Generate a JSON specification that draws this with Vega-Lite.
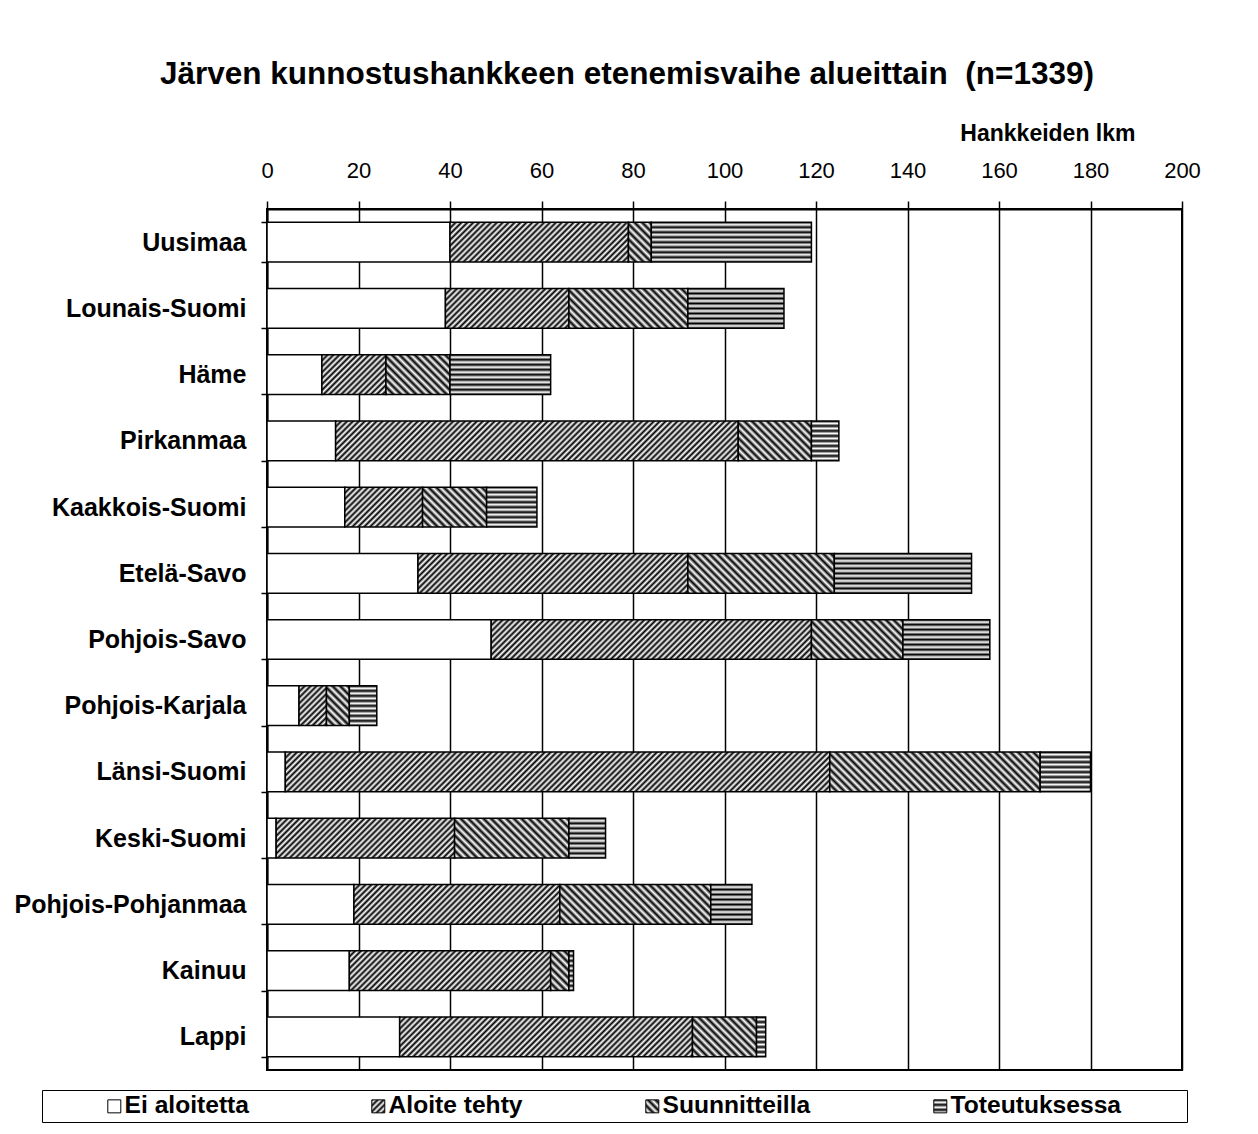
{
  "$schema": "https://vega.github.io/schema/vega-lite/v6.json",
  "autosize": {"type": "none"},
  "width": 915,
  "height": 861,
  "padding": {"left": 267, "top": 209, "right": 76, "bottom": 64},
  "background": "white",
  "params": [
    {"name": "hatch", "value": [
      {"offset":0,"color":"#000"},{"offset":0.005,"color":"#fff"},{"offset":0.01,"color":"#000"},{"offset":0.015,"color":"#fff"},{"offset":0.02,"color":"#000"},{"offset":0.025,"color":"#fff"},{"offset":0.03,"color":"#000"},{"offset":0.035,"color":"#fff"},{"offset":0.04,"color":"#000"},{"offset":0.045,"color":"#fff"},
      {"offset":0.05,"color":"#000"},{"offset":0.055,"color":"#fff"},{"offset":0.06,"color":"#000"},{"offset":0.065,"color":"#fff"},{"offset":0.07,"color":"#000"},{"offset":0.075,"color":"#fff"},{"offset":0.08,"color":"#000"},{"offset":0.085,"color":"#fff"},{"offset":0.09,"color":"#000"},{"offset":0.095,"color":"#fff"},
      {"offset":0.1,"color":"#000"},{"offset":0.105,"color":"#fff"},{"offset":0.11,"color":"#000"},{"offset":0.115,"color":"#fff"},{"offset":0.12,"color":"#000"},{"offset":0.125,"color":"#fff"},{"offset":0.13,"color":"#000"},{"offset":0.135,"color":"#fff"},{"offset":0.14,"color":"#000"},{"offset":0.145,"color":"#fff"},
      {"offset":0.15,"color":"#000"},{"offset":0.155,"color":"#fff"},{"offset":0.16,"color":"#000"},{"offset":0.165,"color":"#fff"},{"offset":0.17,"color":"#000"},{"offset":0.175,"color":"#fff"},{"offset":0.18,"color":"#000"},{"offset":0.185,"color":"#fff"},{"offset":0.19,"color":"#000"},{"offset":0.195,"color":"#fff"},
      {"offset":0.2,"color":"#000"},{"offset":0.205,"color":"#fff"},{"offset":0.21,"color":"#000"},{"offset":0.215,"color":"#fff"},{"offset":0.22,"color":"#000"},{"offset":0.225,"color":"#fff"},{"offset":0.23,"color":"#000"},{"offset":0.235,"color":"#fff"},{"offset":0.24,"color":"#000"},{"offset":0.245,"color":"#fff"},
      {"offset":0.25,"color":"#000"},{"offset":0.255,"color":"#fff"},{"offset":0.26,"color":"#000"},{"offset":0.265,"color":"#fff"},{"offset":0.27,"color":"#000"},{"offset":0.275,"color":"#fff"},{"offset":0.28,"color":"#000"},{"offset":0.285,"color":"#fff"},{"offset":0.29,"color":"#000"},{"offset":0.295,"color":"#fff"},
      {"offset":0.3,"color":"#000"},{"offset":0.305,"color":"#fff"},{"offset":0.31,"color":"#000"},{"offset":0.315,"color":"#fff"},{"offset":0.32,"color":"#000"},{"offset":0.325,"color":"#fff"},{"offset":0.33,"color":"#000"},{"offset":0.335,"color":"#fff"},{"offset":0.34,"color":"#000"},{"offset":0.345,"color":"#fff"},
      {"offset":0.35,"color":"#000"},{"offset":0.355,"color":"#fff"},{"offset":0.36,"color":"#000"},{"offset":0.365,"color":"#fff"},{"offset":0.37,"color":"#000"},{"offset":0.375,"color":"#fff"},{"offset":0.38,"color":"#000"},{"offset":0.385,"color":"#fff"},{"offset":0.39,"color":"#000"},{"offset":0.395,"color":"#fff"},
      {"offset":0.4,"color":"#000"},{"offset":0.405,"color":"#fff"},{"offset":0.41,"color":"#000"},{"offset":0.415,"color":"#fff"},{"offset":0.42,"color":"#000"},{"offset":0.425,"color":"#fff"},{"offset":0.43,"color":"#000"},{"offset":0.435,"color":"#fff"},{"offset":0.44,"color":"#000"},{"offset":0.445,"color":"#fff"},
      {"offset":0.45,"color":"#000"},{"offset":0.455,"color":"#fff"},{"offset":0.46,"color":"#000"},{"offset":0.465,"color":"#fff"},{"offset":0.47,"color":"#000"},{"offset":0.475,"color":"#fff"},{"offset":0.48,"color":"#000"},{"offset":0.485,"color":"#fff"},{"offset":0.49,"color":"#000"},{"offset":0.495,"color":"#fff"},
      {"offset":0.5,"color":"#000"},{"offset":0.505,"color":"#fff"},{"offset":0.51,"color":"#000"},{"offset":0.515,"color":"#fff"},{"offset":0.52,"color":"#000"},{"offset":0.525,"color":"#fff"},{"offset":0.53,"color":"#000"},{"offset":0.535,"color":"#fff"},{"offset":0.54,"color":"#000"},{"offset":0.545,"color":"#fff"},
      {"offset":0.55,"color":"#000"},{"offset":0.555,"color":"#fff"},{"offset":0.56,"color":"#000"},{"offset":0.565,"color":"#fff"},{"offset":0.57,"color":"#000"},{"offset":0.575,"color":"#fff"},{"offset":0.58,"color":"#000"},{"offset":0.585,"color":"#fff"},{"offset":0.59,"color":"#000"},{"offset":0.595,"color":"#fff"},
      {"offset":0.6,"color":"#000"},{"offset":0.605,"color":"#fff"},{"offset":0.61,"color":"#000"},{"offset":0.615,"color":"#fff"},{"offset":0.62,"color":"#000"},{"offset":0.625,"color":"#fff"},{"offset":0.63,"color":"#000"},{"offset":0.635,"color":"#fff"},{"offset":0.64,"color":"#000"},{"offset":0.645,"color":"#fff"},
      {"offset":0.65,"color":"#000"},{"offset":0.655,"color":"#fff"},{"offset":0.66,"color":"#000"},{"offset":0.665,"color":"#fff"},{"offset":0.67,"color":"#000"},{"offset":0.675,"color":"#fff"},{"offset":0.68,"color":"#000"},{"offset":0.685,"color":"#fff"},{"offset":0.69,"color":"#000"},{"offset":0.695,"color":"#fff"},
      {"offset":0.7,"color":"#000"},{"offset":0.705,"color":"#fff"},{"offset":0.71,"color":"#000"},{"offset":0.715,"color":"#fff"},{"offset":0.72,"color":"#000"},{"offset":0.725,"color":"#fff"},{"offset":0.73,"color":"#000"},{"offset":0.735,"color":"#fff"},{"offset":0.74,"color":"#000"},{"offset":0.745,"color":"#fff"},
      {"offset":0.75,"color":"#000"},{"offset":0.755,"color":"#fff"},{"offset":0.76,"color":"#000"},{"offset":0.765,"color":"#fff"},{"offset":0.77,"color":"#000"},{"offset":0.775,"color":"#fff"},{"offset":0.78,"color":"#000"},{"offset":0.785,"color":"#fff"},{"offset":0.79,"color":"#000"},{"offset":0.795,"color":"#fff"},
      {"offset":0.8,"color":"#000"},{"offset":0.805,"color":"#fff"},{"offset":0.81,"color":"#000"},{"offset":0.815,"color":"#fff"},{"offset":0.82,"color":"#000"},{"offset":0.825,"color":"#fff"},{"offset":0.83,"color":"#000"},{"offset":0.835,"color":"#fff"},{"offset":0.84,"color":"#000"},{"offset":0.845,"color":"#fff"},
      {"offset":0.85,"color":"#000"},{"offset":0.855,"color":"#fff"},{"offset":0.86,"color":"#000"},{"offset":0.865,"color":"#fff"},{"offset":0.87,"color":"#000"},{"offset":0.875,"color":"#fff"},{"offset":0.88,"color":"#000"},{"offset":0.885,"color":"#fff"},{"offset":0.89,"color":"#000"},{"offset":0.895,"color":"#fff"},
      {"offset":0.9,"color":"#000"},{"offset":0.905,"color":"#fff"},{"offset":0.91,"color":"#000"},{"offset":0.915,"color":"#fff"},{"offset":0.92,"color":"#000"},{"offset":0.925,"color":"#fff"},{"offset":0.93,"color":"#000"},{"offset":0.935,"color":"#fff"},{"offset":0.94,"color":"#000"},{"offset":0.945,"color":"#fff"},
      {"offset":0.95,"color":"#000"},{"offset":0.955,"color":"#fff"},{"offset":0.96,"color":"#000"},{"offset":0.965,"color":"#fff"},{"offset":0.97,"color":"#000"},{"offset":0.975,"color":"#fff"},{"offset":0.98,"color":"#000"},{"offset":0.985,"color":"#fff"},{"offset":0.99,"color":"#000"},{"offset":0.995,"color":"#fff"},
      {"offset":1,"color":"#000"}
    ]}
  ],
  "title": {
    "text": "Järven kunnostushankkeen etenemisvaihe alueittain\u00a0 (n=1339)",
    "anchor": "start",
    "frame": "group",
    "dx": -107,
    "offset": 32,
    "fontSize": 31.5,
    "fontWeight": "bold",
    "color": "black"
  },
  "data": {"values": [
    {"region": "Uusimaa", "stage": "Ei aloitetta", "k": 1, "n": 40},
    {"region": "Uusimaa", "stage": "Aloite tehty", "k": 2, "n": 39},
    {"region": "Uusimaa", "stage": "Suunnitteilla", "k": 3, "n": 5},
    {"region": "Uusimaa", "stage": "Toteutuksessa", "k": 4, "n": 35},
    {"region": "Lounais-Suomi", "stage": "Ei aloitetta", "k": 1, "n": 39},
    {"region": "Lounais-Suomi", "stage": "Aloite tehty", "k": 2, "n": 27},
    {"region": "Lounais-Suomi", "stage": "Suunnitteilla", "k": 3, "n": 26},
    {"region": "Lounais-Suomi", "stage": "Toteutuksessa", "k": 4, "n": 21},
    {"region": "Häme", "stage": "Ei aloitetta", "k": 1, "n": 12},
    {"region": "Häme", "stage": "Aloite tehty", "k": 2, "n": 14},
    {"region": "Häme", "stage": "Suunnitteilla", "k": 3, "n": 14},
    {"region": "Häme", "stage": "Toteutuksessa", "k": 4, "n": 22},
    {"region": "Pirkanmaa", "stage": "Ei aloitetta", "k": 1, "n": 15},
    {"region": "Pirkanmaa", "stage": "Aloite tehty", "k": 2, "n": 88},
    {"region": "Pirkanmaa", "stage": "Suunnitteilla", "k": 3, "n": 16},
    {"region": "Pirkanmaa", "stage": "Toteutuksessa", "k": 4, "n": 6},
    {"region": "Kaakkois-Suomi", "stage": "Ei aloitetta", "k": 1, "n": 17},
    {"region": "Kaakkois-Suomi", "stage": "Aloite tehty", "k": 2, "n": 17},
    {"region": "Kaakkois-Suomi", "stage": "Suunnitteilla", "k": 3, "n": 14},
    {"region": "Kaakkois-Suomi", "stage": "Toteutuksessa", "k": 4, "n": 11},
    {"region": "Etelä-Savo", "stage": "Ei aloitetta", "k": 1, "n": 33},
    {"region": "Etelä-Savo", "stage": "Aloite tehty", "k": 2, "n": 59},
    {"region": "Etelä-Savo", "stage": "Suunnitteilla", "k": 3, "n": 32},
    {"region": "Etelä-Savo", "stage": "Toteutuksessa", "k": 4, "n": 30},
    {"region": "Pohjois-Savo", "stage": "Ei aloitetta", "k": 1, "n": 49},
    {"region": "Pohjois-Savo", "stage": "Aloite tehty", "k": 2, "n": 70},
    {"region": "Pohjois-Savo", "stage": "Suunnitteilla", "k": 3, "n": 20},
    {"region": "Pohjois-Savo", "stage": "Toteutuksessa", "k": 4, "n": 19},
    {"region": "Pohjois-Karjala", "stage": "Ei aloitetta", "k": 1, "n": 7},
    {"region": "Pohjois-Karjala", "stage": "Aloite tehty", "k": 2, "n": 6},
    {"region": "Pohjois-Karjala", "stage": "Suunnitteilla", "k": 3, "n": 5},
    {"region": "Pohjois-Karjala", "stage": "Toteutuksessa", "k": 4, "n": 6},
    {"region": "Länsi-Suomi", "stage": "Ei aloitetta", "k": 1, "n": 4},
    {"region": "Länsi-Suomi", "stage": "Aloite tehty", "k": 2, "n": 119},
    {"region": "Länsi-Suomi", "stage": "Suunnitteilla", "k": 3, "n": 46},
    {"region": "Länsi-Suomi", "stage": "Toteutuksessa", "k": 4, "n": 11},
    {"region": "Keski-Suomi", "stage": "Ei aloitetta", "k": 1, "n": 2},
    {"region": "Keski-Suomi", "stage": "Aloite tehty", "k": 2, "n": 39},
    {"region": "Keski-Suomi", "stage": "Suunnitteilla", "k": 3, "n": 25},
    {"region": "Keski-Suomi", "stage": "Toteutuksessa", "k": 4, "n": 8},
    {"region": "Pohjois-Pohjanmaa", "stage": "Ei aloitetta", "k": 1, "n": 19},
    {"region": "Pohjois-Pohjanmaa", "stage": "Aloite tehty", "k": 2, "n": 45},
    {"region": "Pohjois-Pohjanmaa", "stage": "Suunnitteilla", "k": 3, "n": 33},
    {"region": "Pohjois-Pohjanmaa", "stage": "Toteutuksessa", "k": 4, "n": 9},
    {"region": "Kainuu", "stage": "Ei aloitetta", "k": 1, "n": 18},
    {"region": "Kainuu", "stage": "Aloite tehty", "k": 2, "n": 44},
    {"region": "Kainuu", "stage": "Suunnitteilla", "k": 3, "n": 4},
    {"region": "Kainuu", "stage": "Toteutuksessa", "k": 4, "n": 1},
    {"region": "Lappi", "stage": "Ei aloitetta", "k": 1, "n": 29},
    {"region": "Lappi", "stage": "Aloite tehty", "k": 2, "n": 64},
    {"region": "Lappi", "stage": "Suunnitteilla", "k": 3, "n": 14},
    {"region": "Lappi", "stage": "Toteutuksessa", "k": 4, "n": 2}
  ]},
  "transform": [
    {"stack": "n", "groupby": ["region"], "sort": [{"field": "k", "order": "ascending"}], "as": ["s0", "s1"]}
  ],
  "mark": {
    "type": "bar",
    "strokeWidth": 1.5,
    "fill": {"expr": "(datum.stage || datum.value) === 'Ei aloitetta' ? 'white' : (datum.stage || datum.value) === 'Toteutuksessa' ? {gradient: 'linear', x1: 0, y1: 0, x2: 0, y2: 500 / (isValid(datum.s1) ? bandwidth('y') : 13), stops: hatch} : (datum.stage || datum.value) === 'Aloite tehty' ? {gradient: 'linear', x1: 0, y1: 0, x2: 590 * (isValid(datum.s1) ? scale('x', datum.s1) - scale('x', datum.s0) : 13) / (pow(isValid(datum.s1) ? scale('x', datum.s1) - scale('x', datum.s0) : 13, 2) + pow(isValid(datum.s1) ? bandwidth('y') : 13, 2)), y2: 590 * (isValid(datum.s1) ? bandwidth('y') : 13) / (pow(isValid(datum.s1) ? scale('x', datum.s1) - scale('x', datum.s0) : 13, 2) + pow(isValid(datum.s1) ? bandwidth('y') : 13, 2)), stops: hatch} : {gradient: 'linear', x1: 0, y1: 1, x2: 760 * (isValid(datum.s1) ? scale('x', datum.s1) - scale('x', datum.s0) : 13) / (pow(isValid(datum.s1) ? scale('x', datum.s1) - scale('x', datum.s0) : 13, 2) + pow(isValid(datum.s1) ? bandwidth('y') : 13, 2)), y2: 1 - 760 * (isValid(datum.s1) ? bandwidth('y') : 13) / (pow(isValid(datum.s1) ? scale('x', datum.s1) - scale('x', datum.s0) : 13, 2) + pow(isValid(datum.s1) ? bandwidth('y') : 13, 2)), stops: hatch}"}
  },
  "encoding": {
    "y": {
      "field": "region",
      "type": "nominal",
      "sort": ["Uusimaa", "Lounais-Suomi", "Häme", "Pirkanmaa", "Kaakkois-Suomi", "Etelä-Savo", "Pohjois-Savo", "Pohjois-Karjala", "Länsi-Suomi", "Keski-Suomi", "Pohjois-Pohjanmaa", "Kainuu", "Lappi"],
      "scale": {"paddingInner": 0.4, "paddingOuter": 0.2},
      "axis": {
        "title": null,
        "orient": "left",
        "tickBand": "extent",
        "tickSize": 6,
        "tickWidth": 1.5,
        "tickColor": "black",
        "labelFontSize": 25,
        "labelFontWeight": "bold",
        "labelColor": "black",
        "labelPadding": 15,
        "labelLimit": 400,
        "domainColor": "black",
        "domainWidth": 2
      }
    },
    "x": {
      "field": "s0",
      "type": "quantitative",
      "scale": {"domain": [0, 200], "nice": false},
      "axis": {
        "orient": "top",
        "values": [0, 20, 40, 60, 80, 100, 120, 140, 160, 180, 200],
        "title": "Hankkeiden lkm",
        "titleFontSize": 23,
        "titleFontWeight": "bold",
        "titleColor": "black",
        "titleX": 868,
        "titleY": -76,
        "titleAlign": "right",
        "titleBaseline": "middle",
        "labelFontSize": 22,
        "labelColor": "black",
        "labelPadding": 19,
        "labelFlush": false,
        "labelOverlap": false,
        "tickSize": 8,
        "tickWidth": 1.5,
        "tickColor": "black",
        "grid": true,
        "gridColor": "black",
        "gridWidth": 1.5,
        "gridOpacity": 1,
        "domainColor": "black",
        "domainWidth": 2
      }
    },
    "x2": {"field": "s1"},
    "stroke": {
      "field": "stage",
      "type": "nominal",
      "scale": {"domain": ["Ei aloitetta", "Aloite tehty", "Suunnitteilla", "Toteutuksessa"], "range": ["black", "black", "black", "black"]},
      "legend": {
        "title": null,
        "orient": "none",
        "legendX": -225,
        "legendY": 881,
        "direction": "horizontal",
        "columns": 4,
        "symbolType": "square",
        "symbolSize": 169,
        "symbolStrokeWidth": 1,
        "symbolStrokeColor": "black",
        "symbolOffset": 56,
        "columnPadding": 61,
        "padding": 4,
        "labelFontSize": 24.6,
        "labelFontWeight": "bold",
        "labelColor": "black",
        "labelOffset": -2,
        "labelLimit": 400,
        "strokeColor": "black",
        "labelExpr": "datum.label === 'Toteutuksessa' ? datum.label + '\u00a0\u00a0\u00a0\u00a0\u00a0\u00a0\u00a0\u00a0\u00a0\u200b' : datum.label",
        "encode": {
          "legend": {"strokeWidth": {"value": 2}}
        }
      }
    }
  },
  "config": {
    "font": "Liberation Sans",
    "view": {"stroke": "black", "strokeWidth": 2}
  }
}
